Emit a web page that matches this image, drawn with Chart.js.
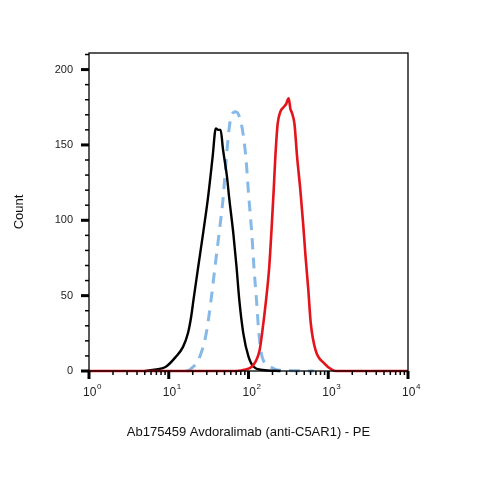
<!DOCTYPE html>
<html>
<head>
<meta charset="utf-8">
<script src="https://cdn.jsdelivr.net/npm/chart.js@4"></script>
<style>
  body { margin: 0; background: #fff; }
  canvas { display: block; }
</style>
</head>
<body>
<canvas id="histChart" width="479" height="479"></canvas>
<script>
// fluorescence intensity (PE) vs count
const blackX = [5.0, 6.3, 9.3, 12.3, 15.1, 17.4, 19.1, 20.4, 23.4, 26.9, 30.9, 35.5, 38.9, 41.7, 44.7, 47.9, 53.7, 57.5, 64.6, 70.8, 76.7, 86.1, 100, 115, 151, 251];
const blackY = [0, 0.7, 3, 9.5, 16, 25, 36, 47, 69, 91, 114, 142, 161, 160, 160, 147, 129, 114, 91, 69, 47, 25, 9.5, 3, 0.7, 0];

const blueX = [16.6, 18.2, 24.5, 29.5, 33.9, 38.0, 42.7, 47.9, 52.5, 57.5, 63.1, 69.2, 77.6, 85.1, 93.3, 100, 110, 117, 126, 135, 148, 186, 229, 398, 661];
const blueY = [0, 0.7, 9.5, 25, 47, 69, 91, 114, 140, 162, 171, 172, 168, 158, 140, 118, 91, 69, 47, 25, 9.5, 3, 0.7, 0.2, 0];

const redX = [1, 63.1, 86.1, 115, 138, 148, 166, 182, 195, 207, 217, 232, 251, 275, 295, 319, 335, 352, 377, 407, 447, 484, 519, 562, 603, 692, 891, 1122, 1259, 10000];
const redY = [0, 0, 0.7, 4, 14, 25, 47, 69, 95, 120, 142, 164, 172, 175, 177, 181, 174, 171, 164, 142, 120, 98, 76, 54, 32, 14, 5, 0.7, 0, 0];

const yTicks = [0, 50, 100, 150, 200];
const xDecades = [0, 1, 2, 3, 4];

const pts = (xs, ys) => xs.map((x, i) => ({ x: x, y: ys[i] }));

// frame, ticks and 10^n labels drawn against the chart scales
const axesPlugin = {
  id: "axesPlugin",
  afterDraw(chart) {
    const { ctx, chartArea: a, scales } = chart;
    const xs = scales.x, ys = scales.y;
    ctx.save();
    ctx.strokeStyle = "#000";
    ctx.lineWidth = 1.3;
    ctx.strokeRect(a.left, a.top, a.right - a.left, a.bottom - a.top);

    // y ticks every 10, bigger at labelled values
    for (let v = 0; v <= 210; v += 10) {
      const py = ys.getPixelForValue(v);
      const major = yTicks.includes(v);
      ctx.lineWidth = major ? 3 : 1.5;
      ctx.beginPath();
      ctx.moveTo(a.left - (major ? 8 : 4), py);
      ctx.lineTo(a.left, py);
      ctx.stroke();
    }

    // x log ticks
    xDecades.forEach(k => {
      const base = Math.pow(10, k);
      const px = xs.getPixelForValue(base);
      ctx.lineWidth = 3;
      ctx.beginPath();
      ctx.moveTo(px, a.bottom);
      ctx.lineTo(px, a.bottom + 8);
      ctx.stroke();
      if (k < 4) {
        ctx.lineWidth = 1.5;
        for (let m = 2; m <= 9; m++) {
          const mx = xs.getPixelForValue(m * base);
          ctx.beginPath();
          ctx.moveTo(mx, a.bottom);
          ctx.lineTo(mx, a.bottom + 4);
          ctx.stroke();
        }
      }
      // label 10^k
      ctx.fillStyle = "#222";
      ctx.textBaseline = "alphabetic";
      ctx.font = "12px 'Liberation Sans', Arial, sans-serif";
      const w1 = ctx.measureText("10").width;
      ctx.font = "8px 'Liberation Sans', Arial, sans-serif";
      const w2 = ctx.measureText(String(k)).width;
      const sx = px - (w1 + w2) / 2 + 3;
      ctx.font = "12px 'Liberation Sans', Arial, sans-serif";
      ctx.fillText("10", sx, a.bottom + 25);
      ctx.font = "8px 'Liberation Sans', Arial, sans-serif";
      ctx.fillText(String(k), sx + w1 + 0.5, a.bottom + 18);
    });
    ctx.restore();
  }
};

const ctx = document.getElementById("histChart");

new Chart(ctx, {
  type: "line",
  data: {
    datasets: [
      {
        label: "Avdoralimab",
        data: pts(redX, redY),
        borderColor: "#e3141b",
        borderWidth: 2.6,
        pointRadius: 0,
        cubicInterpolationMode: "monotone"
      },
      {
        label: "Unstained",
        data: pts(blackX, blackY),
        borderColor: "#000000",
        borderWidth: 2.4,
        pointRadius: 0,
        cubicInterpolationMode: "monotone"
      },
      {
        label: "Isotype",
        data: pts(blueX, blueY),
        borderColor: "#86b9e8",
        borderWidth: 3,
        borderDash: [11, 8],
        pointRadius: 0,
        cubicInterpolationMode: "monotone"
      }
    ]
  },
  options: {
    responsive: false,
    animation: false,
    clip: false,
    layout: { padding: { left: 0, right: 71, top: 53, bottom: 0 } },
    plugins: {
      legend: { display: false },
      tooltip: { enabled: false }
    },
    scales: {
      x: {
        type: "logarithmic",
        min: 1,
        max: 10000,
        grid: { display: false },
        border: { display: false },
        ticks: { display: false },
        title: {
          display: true,
          text: "Ab175459 Avdoralimab (anti-C5AR1) - PE",
          color: "#111",
          font: { family: "'Liberation Sans', Arial, sans-serif", size: 13 },
          padding: { top: 0, bottom: 39 }
        },
        afterFit(scale) { scale.height = 108; }
      },
      y: {
        min: 0,
        max: 211,
        grid: { display: false, drawTicks: false },
        border: { display: false },
        ticks: {
          stepSize: 50,
          includeBounds: false,
          padding: 16,
          color: "#222",
          font: { family: "'Liberation Sans', Arial, sans-serif", size: 11 }
        },
        title: {
          display: true,
          text: "Count",
          color: "#111",
          font: { family: "'Liberation Sans', Arial, sans-serif", size: 13 },
          padding: { top: 12, bottom: 0 }
        },
        afterFit(scale) { scale.width = 89; }
      }
    }
  },
  plugins: [axesPlugin]
});
</script>
</body>
</html>
